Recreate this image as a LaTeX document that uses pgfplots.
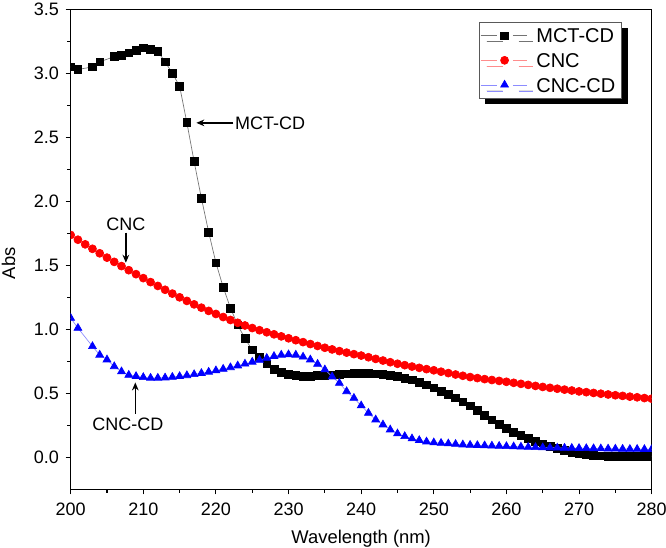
\documentclass[border=0pt]{standalone}
\usepackage{pgfplots}
\pgfplotsset{compat=1.18}
\usepackage{fontspec}
\setmainfont{Liberation Sans}
\usetikzlibrary{arrows.meta,shadows}
\definecolor{mred}{RGB}{255,0,0}
\definecolor{mblue}{RGB}{0,0,255}
\begin{document}
\begin{tikzpicture}
\begin{axis}[
  at={(53pt,44pt)}, anchor=south west,
  scale only axis, width=435.75pt, height=360pt,
  xmin=200, xmax=280, ymin=-0.25, ymax=3.5,
  xtick={200,210,...,280}, ytick={0,0.5,...,3.5},
  minor x tick num=1, minor y tick num=1,
  tick align=outside, xtick pos=left, ytick pos=left,
  major tick length=3.8pt, minor tick length=2.4pt,
  tick style={line width=0.8pt, black},
  axis line style={line width=0.9pt},
  /pgf/number format/assume math mode=true,
  yticklabel style={/pgf/number format/fixed, /pgf/number format/fixed zerofill, /pgf/number format/precision=1, xshift=-1.5pt},
  xticklabel style={/pgf/number format/fixed, /pgf/number format/precision=0, /pgf/number format/1000 sep={}, yshift=-3pt},
  ticklabel style={font=\fontsize{13.5}{15}\selectfont},
  xlabel={Wavelength (nm)}, ylabel={Abs},
  label style={font=\fontsize{13.8}{16}\selectfont},
  xlabel shift=3.8pt, ylabel shift=7pt,
  ylabel style={at={(ticklabel cs:0.471)}},
  clip marker paths=true,
  legend cell align=left,
  legend image code/.code={
    \draw[#1,mark=none] (0cm,0cm)--(0.42cm,0cm) (0.85cm,0cm)--(1.22cm,0cm);
    \draw[#1] plot coordinates {(0.63cm,0cm)};
  },
  legend style={at={(0.949,0.974)}, anchor=north east, draw=black!65, line width=0.6pt,
    fill=white, font=\fontsize{15}{17}\selectfont, inner sep=1pt, row sep=0pt, column sep=3pt,
    nodes={text height=10.8pt, text depth=0pt, inner sep=3.8pt},
    drop shadow={shadow xshift=4.5pt, shadow yshift=-4.5pt, fill=black, opacity=1}},
]
\addplot[draw=black!55, line width=0.5pt, mark=square*, mark size=2.9pt,
  mark options={fill=black, draw=black, solid}] coordinates {
(200,3.05) (201,3.03) (203,3.05) (204,3.09) (206,3.13) (207,3.14) (208,3.16) (209,3.18)
(210,3.20) (211,3.19) (212,3.17) (213,3.09) (214,3.00) (215,2.90) (216,2.615) (217,2.31)
(218,2.025) (219,1.76) (220,1.52) (221,1.33) (222,1.166) (223,1.036) (224,0.927) (225,0.84)
(226,0.78) (227,0.73) (228,0.69) (229,0.665) (230,0.65) (231,0.64) (232,0.635) (233,0.635)
(234,0.64) (235,0.64) (236,0.645) (237,0.65) (238,0.652) (239,0.655) (240,0.656) (241,0.656)
(242,0.653) (243,0.648) (244,0.640) (245,0.632) (246,0.619) (247,0.606) (248,0.588) (249,0.567)
(250,0.543) (251,0.518) (252,0.492) (253,0.465) (254,0.434) (255,0.403) (256,0.366) (257,0.329)
(258,0.292) (259,0.258) (260,0.226) (261,0.198) (262,0.174) (263,0.150) (264,0.124) (265,0.104)
(266,0.088) (267,0.070) (268,0.056) (269,0.040) (270,0.030) (271,0.022) (272,0.016) (273,0.012)
(274,0.010) (275,0.009) (276,0.008) (277,0.008) (278,0.008) (279,0.008) (280,0.008)
};
\addlegendentry{MCT-CD}
\addplot[draw=mred!45, line width=0.5pt, mark=*, mark size=3pt,
  mark options={fill=mred, draw=mred, solid}] coordinates {
(200,1.737) (201,1.700) (202,1.664) (203,1.629) (204,1.594) (205,1.560) (206,1.527) (207,1.494)
(208,1.462) (209,1.431) (210,1.400) (211,1.369) (212,1.339) (213,1.309) (214,1.279) (215,1.250)
(216,1.222) (217,1.195) (218,1.169) (219,1.144) (220,1.120) (221,1.096) (222,1.073) (223,1.051)
(224,1.030) (225,1.010) (226,0.993) (227,0.977) (228,0.961) (229,0.945) (230,0.930) (231,0.915)
(232,0.900) (233,0.885) (234,0.870) (235,0.856) (236,0.843) (237,0.830) (238,0.818) (239,0.806)
(240,0.795) (241,0.782) (242,0.769) (243,0.756) (244,0.743) (245,0.731) (246,0.720) (247,0.709)
(248,0.699) (249,0.689) (250,0.680) (251,0.669) (252,0.658) (253,0.647) (254,0.637) (255,0.627)
(256,0.619) (257,0.611) (258,0.604) (259,0.597) (260,0.590) (261,0.582) (262,0.574) (263,0.566)
(264,0.558) (265,0.550) (266,0.543) (267,0.536) (268,0.529) (269,0.522) (270,0.515) (271,0.509)
(272,0.503) (273,0.497) (274,0.491) (275,0.485) (276,0.480) (277,0.474) (278,0.469) (279,0.463)
(280,0.458)
};
\addlegendentry{CNC}
\addplot[draw=mblue!45, line width=0.5pt, mark=triangle*, mark size=3.4pt,
  mark options={fill=mblue, draw=mblue, solid}] coordinates {
(200,1.088) (201,1.010) (203,0.867) (204,0.800) (205,0.763) (206,0.710) (207,0.670)
(208,0.643) (209,0.633) (210,0.625) (211,0.620) (212,0.620) (213,0.622) (214,0.627) (215,0.633)
(216,0.640) (217,0.648) (218,0.657) (219,0.667) (220,0.678) (221,0.690) (222,0.702) (223,0.716)
(224,0.730) (225,0.745) (226,0.760) (227,0.775) (228,0.790) (229,0.800) (230,0.803) (231,0.800)
(232,0.785) (233,0.763) (234,0.729) (235,0.685) (236,0.630) (237,0.580) (238,0.515) (239,0.463)
(240,0.404) (241,0.346) (242,0.294) (243,0.255) (244,0.216) (245,0.185) (246,0.164) (247,0.146)
(248,0.133) (249,0.122) (250,0.115) (251,0.111) (252,0.107) (253,0.103) (254,0.099) (255,0.096)
(256,0.094) (257,0.092) (258,0.090) (259,0.088) (260,0.086) (261,0.084) (262,0.082) (263,0.080)
(264,0.078) (265,0.076) (266,0.075) (267,0.074) (268,0.073) (269,0.072) (270,0.071) (271,0.070)
(272,0.069) (273,0.068) (274,0.067) (275,0.066) (276,0.065) (277,0.064) (278,0.064) (279,0.063)
(280,0.063)
};
\addlegendentry{CNC-CD}
% annotations
\draw[line width=1pt, -{Stealth[length=6pt,width=5pt]}] (axis cs:222.4,2.613) -- (axis cs:217.3,2.613);
\node[anchor=west, inner sep=0pt, font=\fontsize{13.5}{15}\selectfont] at (axis cs:222.6,2.613) {MCT-CD};
\node[inner sep=0pt, font=\fontsize{13.5}{15}\selectfont] at (axis cs:207.6,1.823) {CNC};
\draw[line width=1pt, -{Stealth[length=6pt,width=5pt]}] (axis cs:207.6,1.755) -- (axis cs:207.6,1.52);
\draw[line width=1pt, -{Stealth[length=6pt,width=5pt]}] (axis cs:208.9,0.34) -- (axis cs:208.9,0.585);
\node[inner sep=0pt, font=\fontsize{13.5}{15}\selectfont] at (axis cs:207.87,0.255) {CNC-CD};
\end{axis}
\pgfresetboundingbox
\path[use as bounding box] (0pt,0pt) rectangle (499.5pt,411pt);
\end{tikzpicture}
\end{document}
